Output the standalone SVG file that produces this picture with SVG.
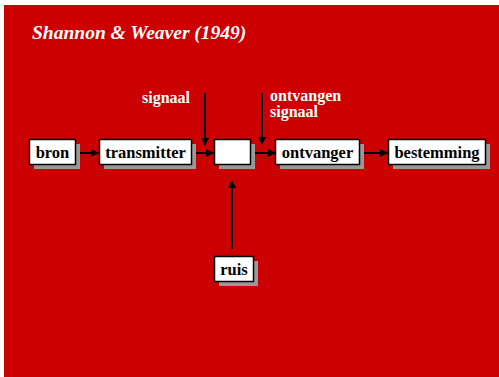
<svg xmlns="http://www.w3.org/2000/svg" width="499" height="377" viewBox="0 0 499 377">
<defs>
<marker id="ah" markerWidth="8" markerHeight="8" refX="7" refY="4" orient="auto" markerUnits="userSpaceOnUse">
<path d="M0,0 L8,4 L0,8 Z" fill="#000"/>
</marker>
<style>
.sh{fill:#999999}
.bx{fill:#fff;stroke:#000;stroke-width:1.5}
.lb{font-family:"Liberation Serif","Times New Roman",serif;font-weight:bold;font-size:16.5px;fill:#000;text-anchor:middle}
.wl{font-family:"Liberation Serif","Times New Roman",serif;font-weight:bold;font-size:16px;fill:#fff}
.cn{stroke:#000;stroke-width:2;fill:none;marker-end:url(#ah)}
</style>
</defs>
<rect x="0" y="0" width="499" height="377" fill="#fff"/>
<rect x="4" y="5" width="495" height="372" fill="#CC0000"/>
<text x="32" y="39" style="font-family:'Liberation Serif','Times New Roman',serif;font-weight:bold;font-style:italic;font-size:19.5px;fill:#fff">Shannon &amp; Weaver (1949)</text>
<text class="wl" x="142" y="103">signaal</text>
<text class="wl" x="270" y="101">ontvangen</text>
<text class="wl" x="270" y="117">signaal</text>
<g id="connectors">
<line class="cn" x1="77" y1="153" x2="98" y2="153"/>
<line class="cn" x1="196" y1="153" x2="213" y2="153"/>
<line class="cn" x1="205" y1="93" x2="205" y2="145"/>
<line class="cn" x1="262" y1="93" x2="262" y2="144"/>
<line class="cn" x1="254" y1="153" x2="275" y2="153"/>
<line class="cn" x1="364" y1="153" x2="387" y2="153"/>
<line class="cn" x1="232" y1="249" x2="232" y2="181"/>
</g>
<g id="bron">
<rect class="sh" x="34" y="144" width="46" height="25"/>
<rect class="bx" x="29.5" y="139.5" width="46" height="25"/>
<text class="lb" x="52.5" y="158">bron</text>
</g>
<g id="transmitter">
<rect class="sh" x="104" y="144" width="92" height="25"/>
<rect class="bx" x="99.5" y="139.5" width="92" height="25"/>
<text class="lb" x="145.5" y="158">transmitter</text>
</g>
<g id="kanaal">
<rect class="sh" x="219" y="144" width="36" height="25"/>
<rect class="bx" x="214.5" y="139.5" width="36" height="25"/>
</g>
<g id="ontvanger">
<rect class="sh" x="280" y="144" width="84" height="25"/>
<rect class="bx" x="275.5" y="139.5" width="84" height="25"/>
<text class="lb" x="317.5" y="158">ontvanger</text>
</g>
<g id="bestemming">
<rect class="sh" x="393" y="144" width="97" height="25"/>
<rect class="bx" x="388.5" y="139.5" width="97" height="25"/>
<text class="lb" x="437" y="158">bestemming</text>
</g>
<g id="ruis">
<rect class="sh" x="219" y="261" width="39" height="25"/>
<rect class="bx" x="214.5" y="256.5" width="39" height="25"/>
<text class="lb" x="234" y="275">ruis</text>
</g>
</svg>
